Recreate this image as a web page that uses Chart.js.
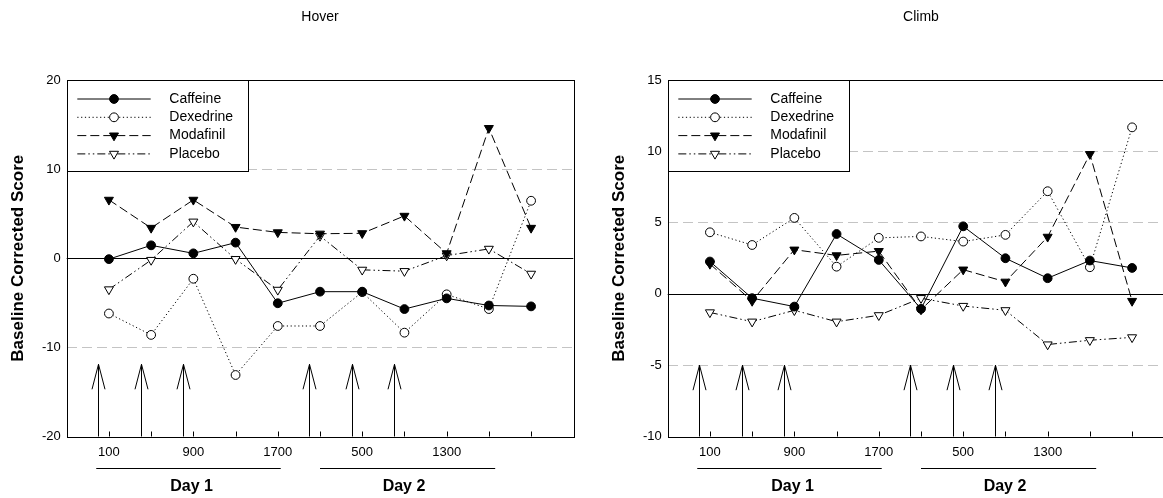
<!DOCTYPE html>
<html><head><meta charset="utf-8">
<script src="https://cdn.jsdelivr.net/npm/chart.js@4/dist/chart.umd.min.js"></script>
<style>
html,body{margin:0;padding:0;background:#fff;overflow:hidden;width:1163px;height:498px;}
.wrap{position:absolute;top:0;width:581px;height:498px;}
#w1{left:0}
#w2{left:600.6px}
</style></head><body>
<div class="wrap" id="w1"><canvas id="c1" width="581" height="498"></canvas></div>
<div class="wrap" id="w2"><canvas id="c2" width="581" height="498"></canvas></div>
<script>
// ---- data ----
const sessions = ['D1 0100','D1 0500','D1 0900','D1 1300','D1 1700','D2 0100','D2 0500','D2 0900','D2 1300','D2 1700','D2 2100'];
const tickLabels = ['100','','900','','1700','','500','','1300','',''];
const seriesNames = ['Caffeine','Dexedrine','Modafinil','Placebo'];

const hoverCaffeine  = [-0.1, 1.45, 0.55, 1.75, -5.05, -3.75, -3.75, -5.7, -4.5, -5.3, -5.4];
const hoverDexedrine = [-6.2, -8.6, -2.3, -13.1, -7.6, -7.6, -3.8, -8.35, -4.05, -5.7, 6.45];
const hoverModafinil = [6.55, 3.4, 6.55, 3.5, 2.9, 2.75, 2.8, 4.75, 0.55, 14.6, 3.4];
const hoverPlacebo   = [-3.5, -0.2, 4.1, -0.1, -3.55, 2.5, -1.3, -1.45, 0.3, 1.05, -1.75];

const climbCaffeine  = [2.27, -0.3, -0.89, 4.2, 2.38, -1.05, 4.74, 2.5, 1.1, 2.34, 1.82];
const climbDexedrine = [4.32, 3.43, 5.33, 1.91, 3.93, 4.03, 3.67, 4.14, 7.2, 1.87, 11.68];
const climbModafinil = [2.1, -0.5, 3.1, 2.7, 3.0, -1.1, 1.7, 0.85, 4.0, 9.8, -0.5];
const climbPlacebo   = [-1.3, -1.95, -1.15, -1.95, -1.5, -0.3, -0.85, -1.15, -3.55, -3.25, -3.05];

const doseTimes = [-0.25, 0.75, 1.75, 4.75, 5.75, 6.75];
const dayLabels = ['Day 1', 'Day 2'];
const dayStart  = [-0.3, 5.0];
const dayEnd    = [4.07, 9.15];
const dayCenter = [1.96, 6.99];

// ---- styles ----
const FONT = '"Liberation Sans", Arial, Helvetica, sans-serif';
Chart.defaults.font.family = FONT;
Chart.defaults.color = '#000';

const styles = [
  {dash: [], pointStyle: 'circle', rotation: 0, radius: 4.4, fill: '#000'},
  {dash: [1.2, 2.6], pointStyle: 'circle', rotation: 0, radius: 4.4, fill: '#fff'},
  {dash: [9, 4], pointStyle: 'triangle', rotation: 180, radius: 5.2, fill: '#000'},
  {dash: [8, 3, 1.5, 3, 1.5, 3], pointStyle: 'triangle', rotation: 180, radius: 5.2, fill: '#fff'}
];

function toPts(arr){ return arr.map((v,i)=>({x:i, y:v})); }

function makeDatasets(series){
  return series.map((arr, k) => ({
    label: seriesNames[k],
    data: toPts(arr),
    borderColor: '#000',
    borderWidth: 1,
    borderDash: styles[k].dash,
    pointStyle: styles[k].pointStyle,
    pointRotation: styles[k].rotation,
    pointRadius: styles[k].radius,
    pointBackgroundColor: styles[k].fill,
    pointBorderColor: '#000',
    pointBorderWidth: 1,
    tension: 0,
    fill: false
  }));
}

function seg(ctx, x1, y1, x2, y2){ ctx.beginPath(); ctx.moveTo(x1, y1); ctx.lineTo(x2, y2); ctx.stroke(); }

function decoPlugin(cfg){
  return {
    id: 'deco',
    beforeDatasetsDraw(chart){
      const {ctx, chartArea: a, scales: {x, y}} = chart;
      ctx.save();
      ctx.strokeStyle = '#000'; ctx.lineWidth = 1; ctx.setLineDash([]);
      const y0 = Math.round(y.getPixelForValue(0)) + 0.5;
      seg(ctx, a.left, y0, a.right, y0);
      ctx.strokeRect(Math.round(a.left)+0.5, Math.round(a.top)+0.5, Math.round(a.right - a.left), Math.round(a.bottom - a.top));
      // inward x tick marks
      sessions.forEach((s, i) => {
        const px = Math.round(x.getPixelForValue(i)) + 0.5;
        seg(ctx, px, a.bottom, px, a.bottom - 5);
      });
      // dose arrows
      const tip = y.getPixelForValue(cfg.arrowTop);
      doseTimes.forEach(t => {
        const px = Math.round(x.getPixelForValue(t)) + 0.5;
        seg(ctx, px, a.bottom, px, tip);
        seg(ctx, px - 6.5, tip + 25, px, tip);
        seg(ctx, px, tip, px + 6.5, tip + 25);
      });
      ctx.restore();
    },
    afterDraw(chart){
      const {ctx, chartArea: a, scales: {x}} = chart;
      ctx.save();
      // legend box
      const bx = Math.round(a.left) + 0.5, by = Math.round(a.top) + 0.5;
      ctx.fillStyle = '#fff'; ctx.fillRect(bx, by, 181, 91);
      ctx.strokeStyle = '#000'; ctx.lineWidth = 1; ctx.setLineDash([]);
      ctx.strokeRect(bx, by, 181, 91);
      seriesNames.forEach((name, k) => {
        const ly = a.top + 19 + k * 18.3;
        ctx.setLineDash(styles[k].dash);
        seg(ctx, a.left + 10.6, ly, a.left + 84, ly);
        ctx.setLineDash([]);
        ctx.fillStyle = styles[k].fill;
        Chart.helpers.drawPoint(ctx, {pointStyle: styles[k].pointStyle, rotation: styles[k].rotation, radius: styles[k].radius, borderWidth: 1}, a.left + 47.3, ly);
        ctx.fillStyle = '#000';
        ctx.font = '14px ' + FONT;
        ctx.textAlign = 'left'; ctx.textBaseline = 'middle';
        ctx.fillText(name, a.left + 102.6, ly);
      });
      // chart title
      ctx.fillStyle = '#000';
      ctx.font = '14px ' + FONT;
      ctx.textAlign = 'center'; ctx.textBaseline = 'middle';
      ctx.fillText(cfg.title, (a.left + a.right) / 2, 17);
      // day underlines and labels
      ctx.lineWidth = 1; ctx.setLineDash([]);
      dayLabels.forEach((d, i) => {
        const ly = Math.round(a.bottom + 31) + 0.5;
        seg(ctx, x.getPixelForValue(dayStart[i]), ly, x.getPixelForValue(dayEnd[i]), ly);
        ctx.font = 'bold 16px ' + FONT;
        ctx.fillText(d, x.getPixelForValue(dayCenter[i]), a.bottom + 50.5);
      });
      ctx.restore();
    }
  };
}

function makeChart(canvasId, series, yMin, yMax, yStep, title, arrowTop){
  return new Chart(document.getElementById(canvasId), {
    type: 'line',
    data: {datasets: makeDatasets(series)},
    plugins: [decoPlugin({title, arrowTop})],
    options: {
      responsive: false,
      animation: false,
      layout: {padding: {top: 80, right: 7.7, bottom: 0, left: 0}},
      plugins: {legend: {display: false}, tooltip: {enabled: false}},
      scales: {
        x: {
          type: 'linear', min: -1, max: 11,
          afterBuildTicks: s => { s.ticks = sessions.map((c, i) => ({value: i})); },
          afterFit: s => { s.height = 61.5; },
          grid: {display: false, drawTicks: false},
          border: {display: false},
          ticks: {
            padding: 8, autoSkip: false, maxRotation: 0, color: '#000',
            font: {size: 13},
            callback: v => tickLabels[Math.round(v)] || ''
          }
        },
        y: {
          min: yMin, max: yMax,
          afterFit: s => { s.width = 66.7; },
          ticks: {stepSize: yStep, padding: 6, color: '#000', font: {size: 13}},
          grid: {
            drawTicks: false, lineWidth: 1,
            color: c => (c.tick.value === 0 || c.tick.value === yMin || c.tick.value === yMax) ? 'rgba(0,0,0,0)' : '#c4c4c4'
          },
          border: {display: false, dash: [10, 5]},
          title: {display: true, text: 'Baseline Corrected Score', color: '#000', font: {size: 17, weight: 'bold'}, padding: {top: 8, bottom: 0}}
        }
      }
    }
  });
}

makeChart('c1', [hoverCaffeine, hoverDexedrine, hoverModafinil, hoverPlacebo], -20, 20, 10, 'Hover', -11.9);
makeChart('c2', [climbCaffeine, climbDexedrine, climbModafinil, climbPlacebo], -10, 15, 5, 'Climb', -5);
</script>
</body></html>
